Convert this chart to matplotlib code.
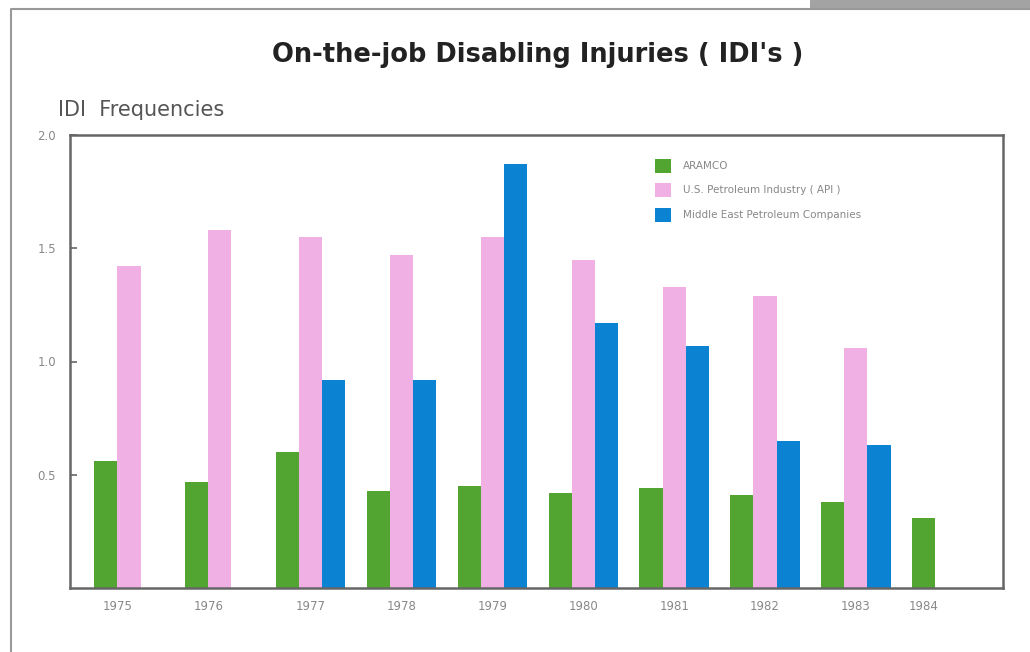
import numpy as np
import matplotlib
matplotlib.use("Agg")
import matplotlib.pyplot as plt
from matplotlib.patches import Rectangle, Patch
from matplotlib.lines import Line2D

# data
years = ["1975", "1976", "1977", "1978", "1979", "1980", "1981", "1982", "1983", "1984"]
aramco = [0.56, 0.47, 0.60, 0.43, 0.45, 0.42, 0.44, 0.41, 0.38, 0.31]
api = [1.42, 1.58, 1.55, 1.47, 1.55, 1.45, 1.33, 1.29, 1.06, np.nan]
middle_east = [np.nan, np.nan, 0.92, 0.92, 1.87, 1.17, 1.07, 0.65, 0.63, np.nan]

series_names = ["ARAMCO", "U.S. Petroleum Industry ( API )", "Middle East Petroleum Companies"]
colors = ["#52a530", "#f0b0e4", "#0b82d2"]

W, H = 1030, 652
fig = plt.figure(figsize=(W / 100, H / 100), dpi=100)
fig.patch.set_facecolor("white")

# axes box in pixel coords
left, right, top, bottom = 70, 1003, 135, 588
ax = fig.add_axes([left / W, 1 - bottom / H, (right - left) / W, (bottom - top) / H])

x = np.arange(len(years))
w = 0.255
offsets = [-w, 0, w]
all_series = [aramco, api, middle_east]
for vals, off, c in zip(all_series, offsets, colors):
    vals = np.array(vals, dtype=float)
    m = ~np.isnan(vals)
    ax.bar(x[m] + off, vals[m], width=w, color=c, linewidth=0)

# year label sits under the middle of the bars that exist
tick_pos = []
for i in range(len(years)):
    pos = [i + off for vals, off in zip(all_series, offsets) if not np.isnan(vals[i])]
    tick_pos.append(np.mean(pos))

ax.set_xlim(-0.65, 9.62)
ax.set_ylim(0, 2.0)
ax.set_xticks(tick_pos)
ax.set_xticklabels(years, fontsize=8.5, color="#888888")
ax.tick_params(axis="x", length=0, pad=9)
ax.set_yticks([0.5, 1.0, 1.5, 2.0])
ax.set_yticklabels(["0.5", "1.0", "1.5", "2.0"], fontsize=8.5, color="#888888")
ax.tick_params(axis="y", direction="in", length=5, width=1.2, color="#666666", pad=10)
for s in ax.spines.values():
    s.set_color("#666666")
    s.set_linewidth(1.8)

handles = [Patch(facecolor=c, edgecolor="none") for c in colors]
leg = ax.legend(handles, series_names, loc="upper left", bbox_to_anchor=(0.627, 0.948),
                frameon=False, fontsize=7.5, handlelength=1.5, handleheight=1.7,
                labelspacing=1.0, handletextpad=1.2, borderpad=0, borderaxespad=0)
for t in leg.get_texts():
    t.set_color("#888888")

fig.text(538 / W, 1 - 55 / H, "On-the-job Disabling Injuries ( IDI's )", ha="center", va="center",
         fontsize=18.5, fontweight="bold", color="#222222")
fig.text(58 / W, 1 - 110 / H, "IDI  Frequencies", ha="left", va="center",
         fontsize=15, color="#555555")

# scan border and the grey strip at top right
fig.add_artist(Line2D([11 / W, 11 / W, 1.0], [0.0, 1 - 9 / H, 1 - 9 / H],
                      transform=fig.transFigure, color="#999999", linewidth=1.5))
fig.add_artist(Rectangle((810 / W, 1 - 8 / H), 220 / W, 8 / H, transform=fig.transFigure,
                         facecolor="#a3a3a3", edgecolor="none"))

fig.savefig("out.png", dpi=100)
